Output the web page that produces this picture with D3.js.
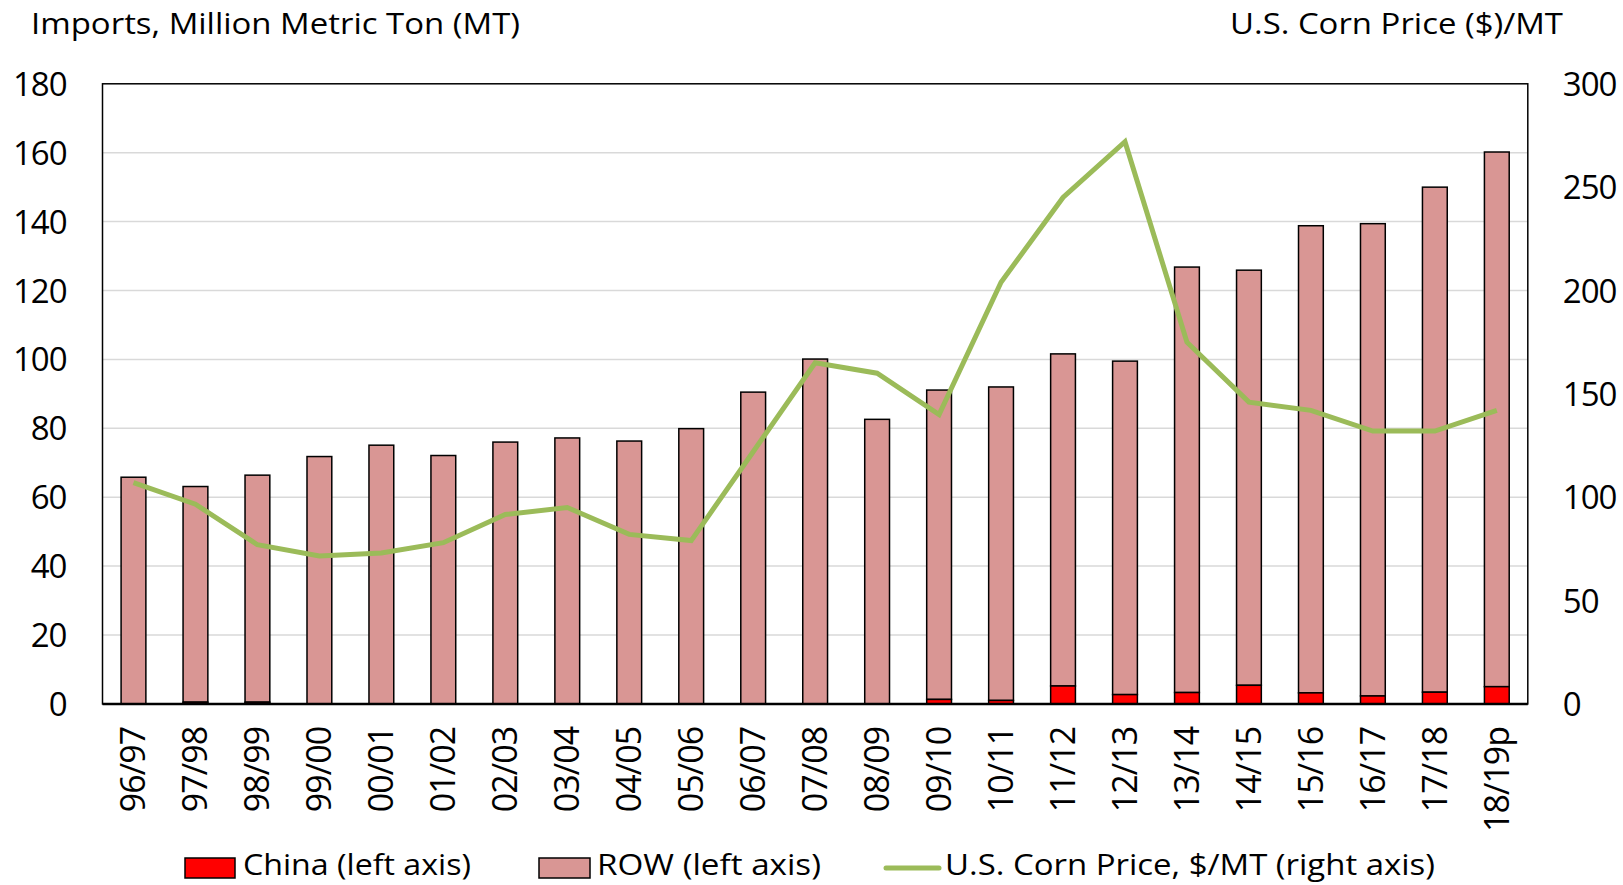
<!DOCTYPE html>
<html><head><meta charset="utf-8">
<script src="https://cdn.jsdelivr.net/npm/d3@7"></script>
<style>body{margin:0;background:#fff}svg text{font-family:"Open Sans",sans-serif;fill:#000}</style>
</head><body><svg id="c" width="1623" height="885"></svg>
<script>
const categories=["96/97","97/98","98/99","99/00","00/01","01/02","02/03","03/04","04/05","05/06","06/07","07/08","08/09","09/10","10/11","11/12","12/13","13/14","14/15","15/16","16/17","17/18","18/19p"];
const china=[0,0.5,0.5,0,0,0,0,0,0,0,0,0,0,1.3,1.0,5.2,2.7,3.3,5.4,3.2,2.3,3.4,5.0];
const row=[65.8,62.6,65.9,71.8,75.1,72.1,76.0,77.2,76.3,79.9,90.5,100.1,82.6,89.8,91.0,96.4,96.8,123.5,120.5,135.6,137.1,146.6,155.2];
const price=[107,96.6,77,71.6,73,78,91.6,95,82,79,122,165,160,140,204,245,272,175,146,142,132,132,142];
const leftTicks=[0,20,40,60,80,100,120,140,160,180];
const rightTicks=[0,50,100,150,200,250,300];
const legendLabels=["China (left axis)","ROW (left axis)","U.S. Corn Price, $/MT (right axis)"];

const svg=d3.select("#c");
const FF='"Open Sans",sans-serif';
const L=102.5,R=1527.8,T=83.8,B=703.9;
const x=d3.scaleBand().domain(categories).range([L,R]).paddingInner(0.6).paddingOuter(0.3);
const y=d3.scaleLinear().domain([0,180]).range([B,T]);
const y2=d3.scaleLinear().domain([0,300]).range([B,T]);

svg.append("g").selectAll("line").data(leftTicks.slice(1,-1)).join("line")
 .attr("x1",L).attr("x2",R).attr("y1",d=>y(d)).attr("y2",d=>y(d)).attr("stroke","#d9d9d9").attr("stroke-width",1.5);

const ga=svg.append("g").attr("transform",`translate(${L-36},0)`).call(d3.axisLeft(y).tickValues(leftTicks).tickSize(0).tickPadding(0));
ga.select(".domain").remove();
ga.selectAll("text").attr("font-size",33).attr("letter-spacing","-1px").attr("dy","0.35em").style("font-family",FF);
const gb=svg.append("g").attr("transform",`translate(${R+35},0)`).call(d3.axisRight(y2).tickValues(rightTicks).tickSize(0).tickPadding(0));
gb.select(".domain").remove();
gb.selectAll("text").attr("font-size",33).attr("letter-spacing","-1px").attr("dy","0.35em").style("font-family",FF);

// bars
const bw=x.bandwidth();
svg.append("g").selectAll("rect").data(categories).join("rect")
 .attr("x",d=>x(d)).attr("width",bw)
 .attr("y",(d,i)=>y(china[i]+row[i])).attr("height",(d,i)=>y(china[i])-y(china[i]+row[i]))
 .attr("fill","#d99694").attr("stroke","#000").attr("stroke-width",1.5);
svg.append("g").selectAll("rect").data(categories).join("rect")
 .attr("x",d=>x(d)).attr("width",bw)
 .attr("y",(d,i)=>y(china[i])).attr("height",(d,i)=>y(0)-y(china[i]))
 .attr("fill","#ff0000").attr("stroke","#000").attr("stroke-width",(d,i)=>china[i]>0?1.5:0);

// frame
svg.append("rect").attr("x",L).attr("y",T).attr("width",R-L).attr("height",B-T).attr("fill","none").attr("stroke","#000").attr("stroke-width",1.5);
svg.append("line").attr("x1",L).attr("x2",R).attr("y1",B).attr("y2",B).attr("stroke","#000").attr("stroke-width",2.5);

// line
svg.append("path").datum(price).attr("fill","none").attr("stroke","#9bbb59").attr("stroke-width",5)
 .attr("stroke-linejoin","miter")
 .attr("d",d3.line().x((d,i)=>x(categories[i])+bw/2).y(d=>y2(d)));

// x labels
const gx=svg.append("g").attr("transform",`translate(0,${B})`).call(d3.axisBottom(x).tickSize(0).tickPadding(0));
gx.select(".domain").remove();
gx.selectAll("text").attr("font-size",34).attr("letter-spacing","-1px").style("font-family",FF).attr("text-anchor","end")
 .attr("transform","rotate(-90)").attr("x",-23).attr("y",0).attr("dy","0.35em");

// titles
svg.append("text").attr("x",31).attr("y",34).attr("font-size",29).attr("textLength",489).attr("lengthAdjust","spacingAndGlyphs").text("Imports, Million Metric Ton (MT)");
svg.append("text").attr("x",1230).attr("y",34).attr("font-size",29).attr("textLength",333).attr("lengthAdjust","spacingAndGlyphs").text("U.S. Corn Price ($)/MT");

// legend
const ly=875;
const lg=svg.append("g");
lg.append("rect").attr("x",185).attr("y",858).attr("width",50).attr("height",20).attr("fill","#ff0000").attr("stroke","#000").attr("stroke-width",1.5);
lg.append("text").attr("x",243).attr("y",ly).attr("font-size",30).attr("textLength",228).attr("lengthAdjust","spacingAndGlyphs").text(legendLabels[0]);
lg.append("rect").attr("x",539).attr("y",858).attr("width",51).attr("height",20).attr("fill","#d99694").attr("stroke","#000").attr("stroke-width",1.5);
lg.append("text").attr("x",597).attr("y",ly).attr("font-size",30).attr("textLength",224).attr("lengthAdjust","spacingAndGlyphs").text(legendLabels[1]);
lg.append("line").attr("x1",886).attr("x2",939).attr("y1",868).attr("y2",868).attr("stroke","#9bbb59").attr("stroke-width",5).attr("stroke-linecap","round");
lg.append("text").attr("x",945).attr("y",ly).attr("font-size",30).attr("textLength",490).attr("lengthAdjust","spacingAndGlyphs").text(legendLabels[2]);
</script></body></html>
